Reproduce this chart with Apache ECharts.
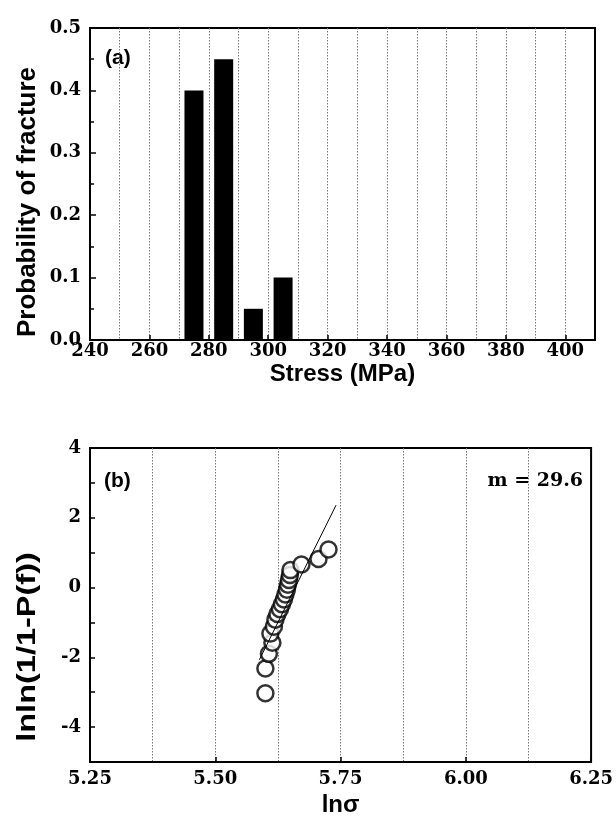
<!DOCTYPE html>
<html>
<head>
<meta charset="utf-8">
<script src="https://cdn.jsdelivr.net/npm/echarts@6/dist/echarts.min.js"></script>
<style>
  html, body { margin: 0; padding: 0; background: #fff; }
  #chart { width: 616px; height: 825px; }
</style>
</head>
<body>
<div id="chart"></div>
<script>
// (a) histogram: stress class centres (MPa) and probability of fracture
const stressBins = [275, 285, 295, 305]
const fractureProb = [0.40, 0.45, 0.05, 0.10]

// (b) Weibull plot: ln(sigma) and lnln(1/(1-P))
const lnSigma = [5.600, 5.600, 5.607, 5.614, 5.610, 5.617, 5.620, 5.624, 5.629, 5.633,
  5.637, 5.640, 5.643, 5.645, 5.647, 5.649, 5.650, 5.672, 5.706, 5.726]
const lnlnP = [-3.03, -2.32, -1.90, -1.58, -1.32, -1.12, -0.92, -0.76, -0.62, -0.48,
  -0.34, -0.20, -0.06, 0.08, 0.22, 0.36, 0.50, 0.66, 0.82, 1.09]

// fitted line end points (slope m = 29.6)
const fitX = [5.588, 5.741]
const fitY = [-2.07, 2.36]

const serif = 'DejaVu Serif'
const sans = 'Liberation Sans'
const dotted = { show: true, showMinLine: false, showMaxLine: false, lineStyle: { color: '#777', width: 1, type: [1.5, 1.5] } }
const blackLine = { show: true, onZero: false, lineStyle: { color: '#000', width: 2 } }
const tickLabel = { color: '#000', fontFamily: serif, fontWeight: 'bold', fontSize: 18 }
const titleStyle = { color: '#000', fontFamily: sans, fontWeight: 'bold', fontSize: 24, verticalAlign: 'top' }

const chart = echarts.init(document.getElementById('chart'))

const option = {
  backgroundColor: '#fff',
  animation: false,
  grid: [
    { left: 90, right: 21, top: 28, height: 312, show: true, borderColor: '#000', borderWidth: 2, backgroundColor: 'transparent' },
    { left: 90, right: 21, top: 448, height: 314, show: true, borderColor: '#000', borderWidth: 2, backgroundColor: 'transparent' },
  ],
  xAxis: [
    {
      gridIndex: 0,
      type: 'value',
      min: 240,
      max: 410,
      interval: 20,
      name: 'Stress (MPa)',
      nameLocation: 'middle',
      nameGap: 22,
      nameMoveOverlap: false,
      nameTextStyle: titleStyle,
      axisLine: blackLine,
      axisTick: { show: true, inside: true, length: 5, lineStyle: { color: '#000', width: 1.5 } },
      minorTick: { show: false, splitNumber: 2 },
      splitLine: dotted,
      minorSplitLine: dotted,
      axisLabel: { ...tickLabel, margin: 2, showMaxLabel: false },
    },
    {
      gridIndex: 1,
      type: 'value',
      min: 5.25,
      max: 6.25,
      interval: 0.25,
      name: 'lnσ',
      nameLocation: 'middle',
      nameGap: 31,
      nameMoveOverlap: false,
      nameTextStyle: titleStyle,
      axisLine: blackLine,
      axisTick: { show: true, inside: true, length: 5, lineStyle: { color: '#000', width: 1.5 } },
      minorTick: { show: false, splitNumber: 2 },
      splitLine: dotted,
      minorSplitLine: dotted,
      axisLabel: { ...tickLabel, margin: 8, formatter: v => v.toFixed(2) },
    },
  ],
  yAxis: [
    {
      gridIndex: 0,
      type: 'value',
      min: 0,
      max: 0.5,
      interval: 0.1,
      axisLine: blackLine,
      axisTick: { show: true, inside: true, length: 6, lineStyle: { color: '#000', width: 1.5 } },
      minorTick: { show: true, splitNumber: 2, length: 4, lineStyle: { color: '#000', width: 1.5 } },
      splitLine: { show: false },
      axisLabel: { ...tickLabel, margin: 9, formatter: v => v.toFixed(1) },
    },
    {
      gridIndex: 1,
      type: 'value',
      min: -5,
      max: 4,
      interval: 1,
      axisLine: blackLine,
      axisTick: { show: true, inside: true, length: 5, lineStyle: { color: '#000', width: 1.5 } },
      splitLine: { show: false },
      axisLabel: { ...tickLabel, margin: 9, formatter: v => (v % 2 === 0 ? String(v) : '') },
    },
  ],
  graphic: [
    { type: 'text', x: 28, y: 202, rotation: Math.PI / 2, style: { text: 'Probability of fracture', font: 'bold 26px "Liberation Sans"', fill: '#000', textAlign: 'center', textVerticalAlign: 'middle' } },
    { type: 'text', x: 28, y: 647, rotation: Math.PI / 2, scaleX: 1.3, style: { text: 'lnln(1/1-P(f))', font: 'bold 25px "Liberation Sans"', fill: '#000', textAlign: 'center', textVerticalAlign: 'middle' } },
    { type: 'text', x: 105, y: 58, style: { text: '(a)', font: 'bold 21px "Liberation Sans"', fill: '#000', textAlign: 'left', textVerticalAlign: 'middle' } },
    { type: 'text', x: 104, y: 481, style: { text: '(b)', font: 'bold 21px "Liberation Sans"', fill: '#000', textAlign: 'left', textVerticalAlign: 'middle' } },
    { type: 'text', x: 583, y: 481, style: { text: 'm = 29.6', font: 'bold 19px "DejaVu Serif"', fill: '#000', textAlign: 'right', textVerticalAlign: 'middle' } },
  ],
  series: [
    {
      type: 'bar',
      xAxisIndex: 0,
      yAxisIndex: 0,
      barWidth: 19,
      itemStyle: { color: '#000' },
      data: stressBins.map((s, i) => [s, fractureProb[i]]),
    },
    {
      type: 'line',
      xAxisIndex: 1,
      yAxisIndex: 1,
      symbol: 'none',
      z: 3,
      lineStyle: { color: '#000', width: 1 },
      data: fitX.map((x, i) => [x, fitY[i]]),
    },
    {
      type: 'scatter',
      xAxisIndex: 1,
      yAxisIndex: 1,
      symbol: 'circle',
      symbolSize: 16,
      z: 2,
      itemStyle: { color: '#fff', borderColor: '#000', borderWidth: 2.5 },
      data: lnSigma.map((x, i) => [x, lnlnP[i]]),
    },
  ],
}

chart.setOption(option)
</script>
</body>
</html>
